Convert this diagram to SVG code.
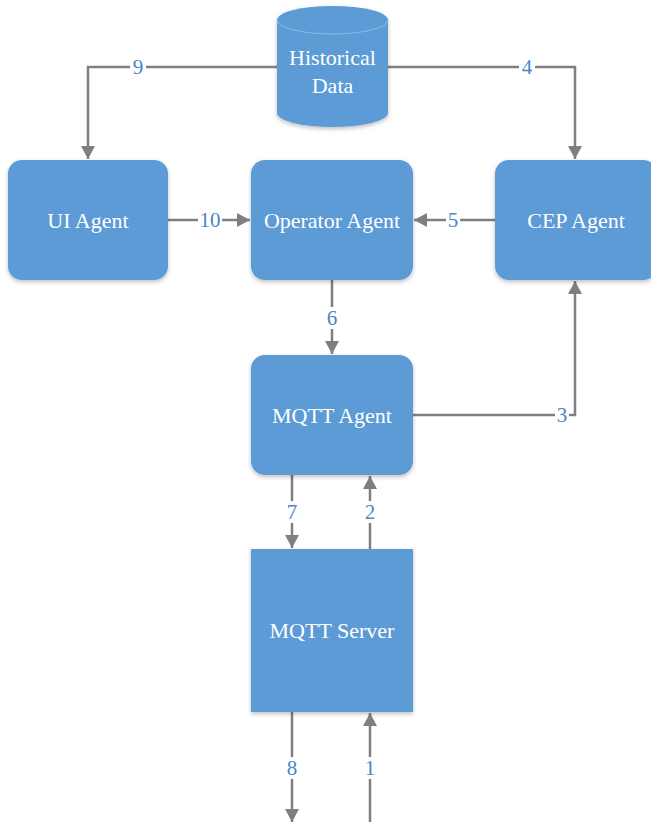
<svg xmlns="http://www.w3.org/2000/svg" width="651" height="827" viewBox="0 0 651 827">
<defs>
<style>
.box{fill:#5b9bd5;filter:url(#sh)}
.nt{font-size:22px;fill:#ffffff;text-anchor:middle}
.ln{stroke:#7f7f7f;stroke-width:2.5;fill:none}
.lb{font-size:21px;fill:#4a86c8;text-anchor:middle}
.bg{fill:#ffffff}
</style>
<filter id="sh" x="-10%" y="-10%" width="120%" height="125%">
<feDropShadow dx="0" dy="2" stdDeviation="2" flood-color="#000" flood-opacity="0.25"/>
</filter>
<marker id="ar" markerUnits="userSpaceOnUse" markerWidth="14" markerHeight="14" refX="13" refY="7" orient="auto">
<path d="M0,0 L13,7 L0,14 Z" fill="#7f7f7f"/>
</marker>
</defs>
<rect width="651" height="827" fill="#ffffff"/>
<g id="connectors" font-family="Liberation Serif, serif">
<polyline class="ln" points="277,67 88,67 88,159" marker-end="url(#ar)"/>
<polyline class="ln" points="388,67 575,67 575,159" marker-end="url(#ar)"/>
<line class="ln" x1="168" y1="220" x2="250" y2="220" marker-end="url(#ar)"/>
<line class="ln" x1="495" y1="220" x2="414" y2="220" marker-end="url(#ar)"/>
<line class="ln" x1="332" y1="280" x2="332" y2="354" marker-end="url(#ar)"/>
<polyline class="ln" points="413,415 575,415 575,281" marker-end="url(#ar)"/>
<line class="ln" x1="292" y1="475" x2="292" y2="548" marker-end="url(#ar)"/>
<line class="ln" x1="370" y1="549" x2="370" y2="476" marker-end="url(#ar)"/>
<line class="ln" x1="292" y1="712" x2="292" y2="822" marker-end="url(#ar)"/>
<line class="ln" x1="370" y1="822" x2="370" y2="713" marker-end="url(#ar)"/>
<rect class="bg" x="130" y="56" width="16" height="22"/><text class="lb" x="138" y="74">9</text>
<rect class="bg" x="519" y="56" width="16" height="22"/><text class="lb" x="527" y="74">4</text>
<rect class="bg" x="198" y="209" width="24" height="22"/><text class="lb" x="210" y="227">10</text>
<rect class="bg" x="446" y="209" width="14" height="22"/><text class="lb" x="453" y="227">5</text>
<rect class="bg" x="324" y="307" width="16" height="22"/><text class="lb" x="332" y="325">6</text>
<rect class="bg" x="555" y="404" width="14" height="22"/><text class="lb" x="562" y="422">3</text>
<rect class="bg" x="284" y="501" width="16" height="22"/><text class="lb" x="292" y="519">7</text>
<rect class="bg" x="362" y="501" width="16" height="22"/><text class="lb" x="370" y="519">2</text>
<rect class="bg" x="284" y="757" width="16" height="22"/><text class="lb" x="292" y="775">8</text>
<rect class="bg" x="362" y="757" width="16" height="22"/><text class="lb" x="370" y="775">1</text>
</g>
<g id="historical-data" font-family="Liberation Serif, serif">
<path class="box" d="M277,20 A55.5,14 0 0 1 388,20 L388,113 A55.5,14 0 0 1 277,113 Z"/>
<path d="M277,20 A55.5,14 0 0 0 388,20" fill="none" stroke="#8dbbe3" stroke-width="1"/>
<text class="nt" x="332.5" y="65">Historical</text>
<text class="nt" x="332.5" y="93">Data</text>
</g>
<g id="ui-agent" font-family="Liberation Serif, serif">
<rect class="box" x="8" y="160" width="160" height="120" rx="14"/>
<text class="nt" x="88" y="228">UI Agent</text>
</g>
<g id="operator-agent" font-family="Liberation Serif, serif">
<rect class="box" x="251" y="160" width="162" height="120" rx="14"/>
<text class="nt" x="332" y="228">Operator Agent</text>
</g>
<g id="cep-agent" font-family="Liberation Serif, serif">
<rect class="box" x="495" y="160" width="162" height="120" rx="14"/>
<text class="nt" x="576" y="228">CEP Agent</text>
</g>
<g id="mqtt-agent" font-family="Liberation Serif, serif">
<rect class="box" x="251" y="355" width="162" height="120" rx="14"/>
<text class="nt" x="332" y="423">MQTT Agent</text>
</g>
<g id="mqtt-server" font-family="Liberation Serif, serif">
<rect class="box" x="251" y="549" width="162" height="163"/>
<text class="nt" x="332" y="638">MQTT Server</text>
</g>
</svg>
